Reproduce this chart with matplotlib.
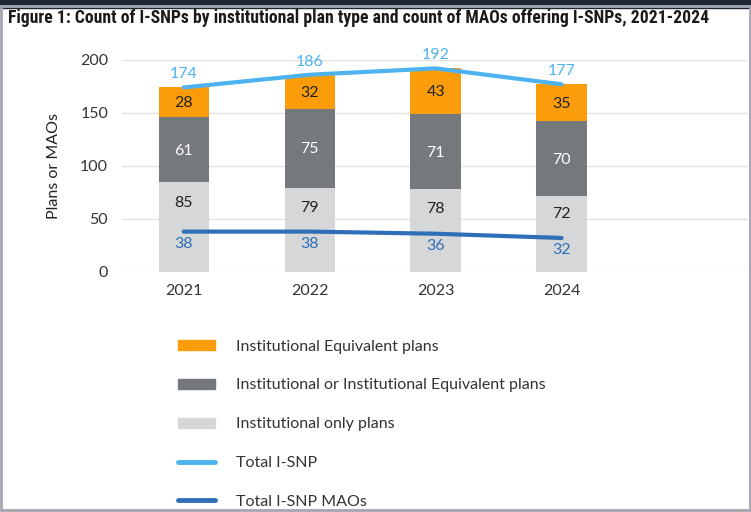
import numpy as np
import matplotlib.pyplot as plt
from matplotlib.patches import Rectangle
from matplotlib.lines import Line2D

plt.rcParams['font.family'] = ['Lato', 'DejaVu Sans']

years = ['2021', '2022', '2023', '2024']
inst_only = [85, 79, 78, 72]
inst_or_equiv = [61, 75, 71, 70]
inst_equiv = [28, 32, 43, 35]
total_isnp = [174, 186, 192, 177]
total_maos = [38, 38, 36, 32]

c_equiv = '#fb9d0b'
c_or = '#75787d'
c_only = '#d6d7d9'
c_total = '#4db3ef'
c_mao = '#2f6fb7'

fig = plt.figure(figsize=(7.51, 5.12), dpi=100)
ax = fig.add_axes([0.1625, 0.469, 0.8335, 0.414])

x = np.arange(len(years))
w = 0.40
b1 = np.array(inst_only)
b2 = b1 + np.array(inst_or_equiv)
ax.bar(x, inst_only, w, color=c_only, zorder=2)
ax.bar(x, inst_or_equiv, w, bottom=b1, color=c_or, zorder=2)
ax.bar(x, inst_equiv, w, bottom=b2, color=c_equiv, zorder=2)

ax.plot(x, total_isnp, color=c_total, lw=3, solid_capstyle='round', zorder=3)
ax.plot(x, total_maos, color=c_mao, lw=3, solid_capstyle='round', zorder=3)

fs = 11.5
for i in range(len(years)):
    ax.text(x[i], inst_only[i] * 0.76, str(inst_only[i]), ha='center', va='center',
            fontsize=fs, color='#222222', zorder=4)
    ax.text(x[i], b1[i] + inst_or_equiv[i] / 2 - 1, str(inst_or_equiv[i]), ha='center',
            va='center', fontsize=fs, color='white', zorder=4)
    ax.text(x[i], b2[i] + inst_equiv[i] / 2 - 1, str(inst_equiv[i]), ha='center',
            va='center', fontsize=fs, color='#222222', zorder=4)
    ax.annotate(str(total_isnp[i]), (x[i], total_isnp[i]), xytext=(0, 9.5), textcoords='offset points',
                ha='center', va='center', fontsize=fs, color=c_total, zorder=4)
    ax.annotate(str(total_maos[i]), (x[i], total_maos[i]), xytext=(0, -9), textcoords='offset points',
                ha='center', va='center', fontsize=fs, color=c_mao, zorder=4)

ax.set_xlim(-0.49, 4.48)
ax.set_ylim(0, 200)
ax.set_yticks([0, 50, 100, 150, 200])
ax.set_xticks(x)
ax.set_xticklabels(years)
ax.tick_params(length=0, labelsize=11.5, labelcolor='#333333')
ax.tick_params(axis='y', pad=10)
ax.tick_params(axis='x', pad=9)
ax.grid(axis='y', color='#e2e2e2', lw=1, zorder=0)
for s in ax.spines.values():
    s.set_visible(False)
ax.set_ylabel('Plans or MAOs', fontsize=11.5, color='#222222', labelpad=14)

fig.text(0.011, 0.964, 'Figure 1: Count of I-SNPs by institutional plan type and count of MAOs offering I-SNPs, 2021-2024',
         fontsize=12.7, fontweight='bold', color='#1a1a1a', va='center',
         family=['Roboto Condensed', 'Roboto', 'DejaVu Sans'])

# legend drawn by hand as a vertical list
handles = [Rectangle((0, 0), 1, 1, color=c_equiv), Rectangle((0, 0), 1, 1, color=c_or),
           Rectangle((0, 0), 1, 1, color=c_only),
           Line2D([], [], color=c_total, lw=3.5, solid_capstyle='round'),
           Line2D([], [], color=c_mao, lw=3.5, solid_capstyle='round')]
labels = ['Institutional Equivalent plans', 'Institutional or Institutional Equivalent plans',
          'Institutional only plans', 'Total I-SNP', 'Total I-SNP MAOs']
leg = fig.legend(handles, labels, loc='upper left', bbox_to_anchor=(0.229, 0.349), frameon=False,
                 fontsize=11.5, labelcolor='#333333', handlelength=2.3, handleheight=0.6,
                 labelspacing=1.55, handletextpad=1.3, borderaxespad=0)

# outer frame
fig.add_artist(Rectangle((0, 0.985), 1, 0.015, transform=fig.transFigure, color='#1e2633'))
fig.add_artist(Rectangle((0.0015, 0.004), 0.997, 0.985, transform=fig.transFigure, fill=False,
                         ec='#a3a6ae', lw=2))

fig.savefig('out.png', dpi=100)
